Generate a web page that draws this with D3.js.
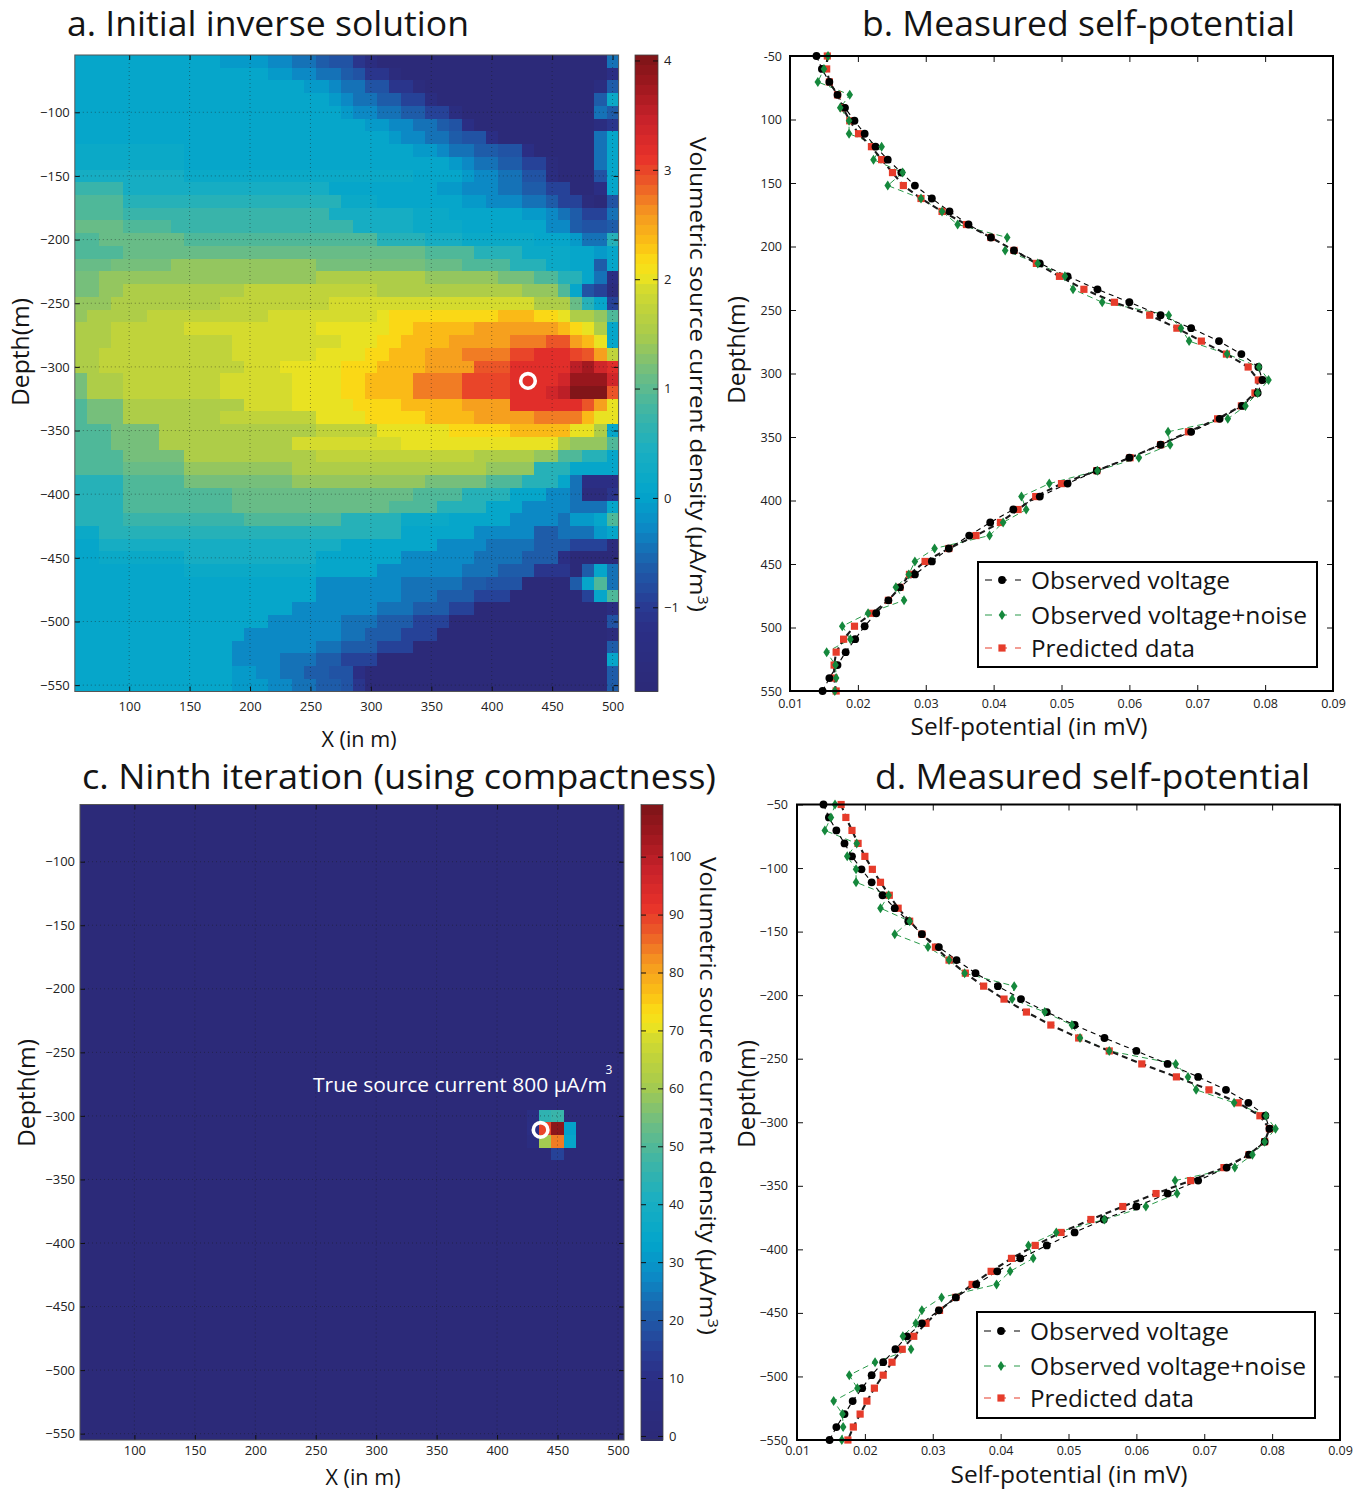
<!DOCTYPE html>
<html>
<head>
<meta charset="utf-8">
<title>Self-potential inversion</title>
<script src="https://cdn.jsdelivr.net/npm/d3@7/dist/d3.min.js"></script>
<style>
  html, body { margin: 0; padding: 0; background: #fff; }
  svg { display: block; }
</style>
</head>
<body>
<svg id="fig" width="1365" height="1491"></svg>
<script>
// ---------------- data ----------------
// Borehole measurement depths (m)
const depths = [50.0, 60.2, 70.4, 80.6, 90.8, 101.0, 111.2, 121.4, 131.6, 141.8,
  152.0, 162.2, 172.4, 182.7, 192.9, 203.1, 213.3, 223.5, 233.7, 243.9,
  254.1, 264.3, 274.5, 284.7, 294.9, 305.1, 315.3, 325.5, 335.7, 345.9,
  356.1, 366.3, 376.5, 386.7, 396.9, 407.1, 417.3, 427.6, 437.8, 448.0,
  458.2, 468.4, 478.6, 488.8, 499.0, 509.2, 519.4, 529.6, 539.8, 550.0];

// Self-potential (mV)
const observedVoltage = [0.0139, 0.0147, 0.0158, 0.0170, 0.0181, 0.0195, 0.0210, 0.0226, 0.0244, 0.0264,
  0.0284, 0.0309, 0.0335, 0.0363, 0.0396, 0.0430, 0.0468, 0.0509, 0.0553, 0.0600,
  0.0646, 0.0691, 0.0732, 0.0765, 0.0790, 0.0796, 0.0789, 0.0766, 0.0733, 0.0691,
  0.0646, 0.0600, 0.0552, 0.0509, 0.0468, 0.0429, 0.0395, 0.0364, 0.0334, 0.0309,
  0.0284, 0.0262, 0.0245, 0.0227, 0.0210, 0.0196, 0.0182, 0.0170, 0.0158, 0.0148];

const observedNoisy = [0.0156, 0.0150, 0.0141, 0.0188, 0.0174, 0.0187, 0.0187, 0.0235, 0.0223, 0.0266,
  0.0244, 0.0293, 0.0324, 0.0347, 0.0420, 0.0417, 0.0465, 0.0505, 0.0517, 0.0560,
  0.0658, 0.0676, 0.0688, 0.0744, 0.0791, 0.0805, 0.0789, 0.0771, 0.0745, 0.0657,
  0.0660, 0.0614, 0.0553, 0.0482, 0.0441, 0.0448, 0.0414, 0.0394, 0.0313, 0.0284,
  0.0275, 0.0256, 0.0268, 0.0215, 0.0177, 0.0189, 0.0154, 0.0167, 0.0168, 0.0166];

const predictedInitial = [0.0155, 0.0154, 0.0158, 0.0170, 0.0178, 0.0188, 0.0201, 0.0220, 0.0235, 0.0251,
  0.0267, 0.0293, 0.0324, 0.0360, 0.0396, 0.0430, 0.0463, 0.0497, 0.0533, 0.0578,
  0.0630, 0.0670, 0.0706, 0.0743, 0.0775, 0.0790, 0.0785, 0.0765, 0.0730, 0.0687,
  0.0646, 0.0601, 0.0552, 0.0500, 0.0462, 0.0436, 0.0410, 0.0374, 0.0334, 0.0299,
  0.0276, 0.0262, 0.0245, 0.0221, 0.0195, 0.0179, 0.0168, 0.0165, 0.0165, 0.0168];

const predictedNinth = [0.0165, 0.0172, 0.0181, 0.0190, 0.0200, 0.0211, 0.0223, 0.0236, 0.0249, 0.0266,
  0.0284, 0.0304, 0.0324, 0.0348, 0.0375, 0.0405, 0.0438, 0.0474, 0.0515, 0.0560,
  0.0608, 0.0659, 0.0707, 0.0750, 0.0782, 0.0796, 0.0789, 0.0766, 0.0729, 0.0680,
  0.0629, 0.0580, 0.0533, 0.0489, 0.0451, 0.0416, 0.0386, 0.0358, 0.0334, 0.0310,
  0.0290, 0.0272, 0.0255, 0.0240, 0.0227, 0.0214, 0.0203, 0.0193, 0.0183, 0.0175];

// Tick values and labels
const mapXTicks = [100, 150, 200, 250, 300, 350, 400, 450, 500];
const mapDepthTicks = [-100, -150, -200, -250, -300, -350, -400, -450, -500, -550];
const spTicks = [0.01, 0.02, 0.03, 0.04, 0.05, 0.06, 0.07, 0.08, 0.09];
const spTickLabels = ['0.01', '0.02', '0.03', '0.04', '0.05', '0.06', '0.07', '0.08', '0.09'];
const spDepthTicks = [50, 100, 150, 200, 250, 300, 350, 400, 450, 500, 550];
const spDepthLabelsB = ['-50', '100', '150', '200', '250', '300', '350', '400', '450', '500', '550'];
const spDepthLabelsD = ['\u221250', '\u2212100', '\u2212150', '\u2212200', '\u2212250', '\u2212300',
  '\u2212350', '\u2212400', '\u2212450', '\u2212500', '\u2212550'];
const barTicksInitial = [-1, 0, 1, 2, 3, 4];
const barTicksNinth = [0, 10, 20, 30, 40, 50, 60, 70, 80, 90, 100];

// Model grid (m): 45 columns x 50 rows of 10 m cells
const gridWest = 55, gridEast = 505, gridTop = -55, gridBottom = -555, cellSize = 10;

// Initial inverse solution (uA/m^3). One string per 10 m row, top to bottom;
// each token is a value level (0-9, a-z) with an optional *count of repeated cells.
const levelBase = -1.75, levelStep = 0.165;
const initialRows = [
  "b*12 a*4 9*2 8*2 7 6*2 4 2 0*19 8",
  "b*16 a*2 9*2 8*2 7 6 4*2 1 0*17 3",
  "b*19 a*2 9 8*2 6*2 4*2 1 0*14 2 7",
  "b*21 a 9 8*2 7*2 5*2 2 0*13 7 c",
  "b*22 a 9*2 8*2 7*2 5*2 2 0*11 8 7",
  "b*24 a*2 9*2 8*2 7 6 3 0*10 2 4",
  "b*26 a 9*2 8*2 7 6*2 3 0*8 8 b",
  "c*9 b*19 a*2 9 8*2 7*2 6*2 3 0*5 8 b",
  "c*9 b*22 a 9 8*2 7*2 5*2 1 0*3 8 b",
  "d*9 c*19 b*4 a 9*2 8*2 6*2 2 0*3 6 b",
  "f*4 d*17 b*9 a*2 9*3 8*2 7*2 5*2 0*2 3 b",
  "g*4 e*18 c*3 b*7 a*2 9*3 8*2 7 5*2 1 0 6",
  "g*4 f*17 d*7 c*3 b*6 a*2 9 8 7 5*2 8",
  "h*4 g*4 f*15 d*5 c*4 b*7 9*2 7 6*2 7",
  "g*2 h*7 g*16 e*4 d*3 c*6 b*3 a 8*2 e",
  "g*4 h*25 g*4 e*4 c*4 b*2 a b",
  "h*3 i*5 j*12 i*9 h*3 g*4 e*3 c*2 b*2 7 b",
  "i*2 j*18 k*9 j*6 i*3 g*2 e*2 b 8 3",
  "i*2 j*2 k*10 l*11 k*12 j*3 g b 6 5 1",
  "j*3 k*9 l*9 m*17 k*3 h e b 5",
  "j k*5 l*10 m*9 n o*9 p*3 o*2 n k*2 j g",
  "k*3 l*6 m*11 n*6 o*2 p*5 q*7 p o n k b",
  "k*3 l*10 m*9 n*3 o*2 p*4 q*5 r*3 s*2 q p n b",
  "k*2 l*11 m*7 n*4 o*2 p*3 q*3 r*4 t*2 u*3 t s q l",
  "k*2 l*12 m*3 n*5 o*3 p*4 q*4 s*3 u*5 w x v u",
  "i k*3 l*8 m*6 n*4 o*2 p*4 r*4 t*4 u*4 v y*3 v",
  "i k*3 l*8 m*6 n*4 o*2 p*4 r*4 t*4 u*3 v w z*3 s",
  "g i*3 k*10 m*4 n*5 o*4 p*5 q*4 u*6 s q n",
  "g i*3 k*8 l*8 n*4 o*5 p*4 q*5 r*4 p n n",
  "g*3 i*4 k*13 l*5 n*6 o*5 p*5 n*2 k b",
  "g*3 i*4 k*11 m*9 n*13 k j*3 g",
  "g*4 i*5 k*11 l*13 k*5 j*2 g*2 e*2 b",
  "g*4 h*5 j*9 k*16 j*4 e*3 b*4",
  "e*4 g*5 i*9 j*11 i*5 g*3 e*3 b 8 3*3",
  "e*4 g*9 h*15 g*4 e*4 b*3 9*2 8 1*2 4",
  "e*4 g*9 h*13 g*4 e*4 b*3 9*4 8*3 b",
  "e*4 f*10 g*8 e*5 c*4 b*5 9*4 8 a*2 b g",
  "c*2 e*25 b*6 9*5 7*2 8*3 a b",
  "b*2 d*20 b*8 9*4 8*4 7*3 5*3 1",
  "b*2 c*7 d*11 b*7 9*6 8*4 7*3 3 0*4",
  "b*9 c*11 b*5 9*7 8*3 7*3 4*3 0 7 b 8",
  "b*20 9*7 8*5 7*2 6*3 0*4 7 b g 8",
  "b*20 9*7 8*3 7*3 5*3 0*6 5 b g",
  "b*18 9*7 8*3 7*3 5*2 0*11 2",
  "b*16 9*6 8*3 7*3 5*3 0*13 6",
  "b*14 9*8 8*2 7*3 5*3 0*14 1",
  "b*13 9*7 8*2 7*3 5*3 0*16 7",
  "b*13 9*4 8*3 7*2 5*3 0*19 b",
  "b*13 a*2 9*2 8*2 7*2 6*2 3 0*20 7",
  "b*13 a*3 9*2 8*2 7*2 6 4 0*20 7"
];

// Ninth iteration (uA/m^3): uniform background plus the compact source cells
// [west edge x (m), top depth (m), value]
const ninthBackground = 0;
const ninthSource = [
  [425, -295, 7], [435, -295, 45], [445, -295, 46],
  [425, -305, 9], [435, -305, 89], [445, -305, 107], [455, -305, 33],
  [425, -315, 6], [435, -315, 60], [445, -315, 84], [455, -315, 34],
  [445, -325, 16]
];

// True source marker [x (m), depth (m)] as placed on each map
const sourceMarkInitial = [430, -311];
const sourceMarkNinth = [436, -311];

// ---------------- drawing ----------------
const svg = d3.select('#fig');
const FONT = "'Open Sans', 'Noto Sans', 'DejaVu Sans', sans-serif";
const INK = '#141414';

// Printed jet-like colour ramp, 64 bands
const rampStops = [
  [0.00, '#2c2a78'], [0.10, '#2b2f86'], [0.14, '#283d95'], [0.20, '#1d5fab'],
  [0.26, '#0b8bc6'], [0.31, '#02a5cb'], [0.38, '#1bafc1'], [0.44, '#3fb5a5'],
  [0.50, '#6ebd82'], [0.56, '#a8cb4c'], [0.60, '#bfd33c'], [0.635, '#d6db2d'],
  [0.655, '#f2e51d'], [0.68, '#fad816'], [0.70, '#fbc315'], [0.75, '#f59a20'],
  [0.80, '#ec5a28'], [0.84, '#e7312a'], [0.90, '#c7222a'], [0.95, '#a0181f'],
  [1.00, '#7c1418']
];
const ramp = d3.scaleLinear()
  .domain(rampStops.map(s => s[0]))
  .range(rampStops.map(s => s[1]))
  .interpolate(d3.interpolateRgb);
const BANDS = 64;
function bandedColour(domain) {
  return v => {
    const t = (v - domain[0]) / (domain[1] - domain[0]);
    const k = Math.max(0, Math.min(BANDS - 1, Math.floor(t * BANDS)));
    return ramp((k + 0.5) / BANDS);
  };
}

function addText(parent, o) {
  const t = parent.append('text')
    .attr('transform', `translate(${o.x},${o.y})` + (o.rotate ? ` rotate(${o.rotate})` : ''))
    .attr('text-anchor', o.anchor || 'middle')
    .attr('font-family', o.family || FONT)
    .attr('font-size', o.size)
    .attr('fill', o.fill || INK);
  if (o.length) t.attr('textLength', o.length).attr('lengthAdjust', 'spacingAndGlyphs');
  const parts = Array.isArray(o.text) ? o.text : [o.text];
  parts.forEach(p => {
    if (typeof p === 'string') t.append('tspan').text(p);
    else t.append('tspan').attr('dy', p.dy).attr('font-size', p.size).text(p.text);
  });
  return t;
}

function decodeRow(row) {
  const out = [];
  row.trim().split(/\s+/).forEach(tok => {
    const [ch, n] = tok.split('*');
    const level = parseInt(ch, 36);
    for (let i = 0; i < (n ? +n : 1); i++) out.push(levelBase + level * levelStep);
  });
  return out;
}

const columnWest = d3.range(gridWest, gridEast, cellSize);
const rowTop = d3.range(gridTop, gridBottom, -cellSize);

const initialCells = [];
initialRows.forEach((row, r) => {
  decodeRow(row).forEach((v, c) => {
    if (c < columnWest.length) initialCells.push({ west: columnWest[c], top: rowTop[r], value: v });
  });
});

const ninthLookup = new Map(ninthSource.map(s => [s[0] + ',' + s[1], s[2]]));
const ninthCells = [];
rowTop.forEach(top => columnWest.forEach(west => {
  const key = west + ',' + top;
  ninthCells.push({ west, top, value: ninthLookup.has(key) ? ninthLookup.get(key) : ninthBackground });
}));

const unitLabel = ['Volumetric source current density (\u03bcA/m', { text: '3', dy: -8, size: 14 }, { text: ')', dy: 8, size: 21 }];

function minusFmt(d) { return d < 0 ? '\u2212' + Math.abs(d) : String(d); }

function drawMap(cfg) {
  const g = svg.append('g');
  const x = d3.scaleLinear().domain([gridWest, gridEast]).range([cfg.left, cfg.right]);
  const y = d3.scaleLinear().domain([gridTop, gridBottom]).range([cfg.top, cfg.bottom]);
  const colour = bandedColour(cfg.domain);

  const clipId = 'clip-' + cfg.id;
  svg.append('clipPath').attr('id', clipId).append('rect')
    .attr('x', cfg.left).attr('y', cfg.top)
    .attr('width', cfg.right - cfg.left).attr('height', cfg.bottom - cfg.top);

  const cells = g.append('g').attr('clip-path', `url(#${clipId})`);
  cells.selectAll('rect').data(cfg.cells).join('rect')
    .attr('x', d => x(d.west))
    .attr('y', d => y(d.top))
    .attr('width', d => x(d.west + cellSize) - x(d.west) + 0.6)
    .attr('height', d => y(d.top - cellSize) - y(d.top) + 0.6)
    .attr('fill', d => colour(d.value))
    .attr('shape-rendering', 'crispEdges');

  // dotted grid
  const grid = g.append('g').attr('stroke', '#1a1a1a').attr('stroke-width', 1)
    .attr('stroke-dasharray', '1,3').attr('opacity', 0.45);
  mapXTicks.forEach(v => grid.append('line').attr('x1', x(v)).attr('x2', x(v)).attr('y1', cfg.top).attr('y2', cfg.bottom));
  mapDepthTicks.forEach(v => grid.append('line').attr('x1', cfg.left).attr('x2', cfg.right).attr('y1', y(v)).attr('y2', y(v)));

  // axes with inward ticks
  const styleAxis = a => {
    a.select('.domain').remove();
    a.attr('font-family', FONT).attr('font-size', 13);
    a.selectAll('line').attr('stroke', '#111');
    a.selectAll('text').attr('fill', '#222');
  };
  g.append('g').attr('transform', `translate(${cfg.left},0)`)
    .call(d3.axisLeft(y).tickValues(mapDepthTicks).tickSize(-5).tickPadding(5).tickFormat(minusFmt)).call(styleAxis);
  g.append('g').attr('transform', `translate(${cfg.right},0)`)
    .call(d3.axisRight(y).tickValues(mapDepthTicks).tickSize(-5).tickFormat('')).call(styleAxis);
  g.append('g').attr('transform', `translate(0,${cfg.bottom})`)
    .call(d3.axisBottom(x).tickValues(mapXTicks).tickSize(-5).tickPadding(cfg.xPad).tickFormat(d3.format('d'))).call(styleAxis);
  g.append('g').attr('transform', `translate(0,${cfg.top})`)
    .call(d3.axisTop(x).tickValues(mapXTicks).tickSize(-5).tickFormat('')).call(styleAxis);

  g.append('rect').attr('x', cfg.left).attr('y', cfg.top)
    .attr('width', cfg.right - cfg.left).attr('height', cfg.bottom - cfg.top)
    .attr('fill', 'none').attr('stroke', '#555').attr('stroke-width', 1);

  // true source marker
  g.append('circle').attr('cx', x(cfg.source[0])).attr('cy', y(cfg.source[1]))
    .attr('r', 7.3).attr('fill', 'none').attr('stroke', '#fff').attr('stroke-width', 3.6);

  // colour bar
  const by = d3.scaleLinear().domain(cfg.domain).range([cfg.bottom, cfg.top]);
  const bandW = (cfg.domain[1] - cfg.domain[0]) / BANDS;
  const bands = d3.range(BANDS).map(k => cfg.domain[0] + k * bandW);
  g.append('g').selectAll('rect').data(bands).join('rect')
    .attr('x', cfg.barLeft).attr('width', cfg.barRight - cfg.barLeft)
    .attr('y', d => by(d + bandW)).attr('height', d => by(d) - by(d + bandW) + 0.5)
    .attr('fill', d => colour(d + bandW / 2))
    .attr('shape-rendering', 'crispEdges');
  g.append('rect').attr('x', cfg.barLeft).attr('y', cfg.top)
    .attr('width', cfg.barRight - cfg.barLeft).attr('height', cfg.bottom - cfg.top)
    .attr('fill', 'none').attr('stroke', '#444').attr('stroke-width', 0.8);
  g.append('g').attr('transform', `translate(${cfg.barRight},0)`)
    .call(d3.axisRight(by).tickValues(cfg.barTicks).tickSize(-5).tickPadding(6).tickFormat(minusFmt)).call(styleAxis);
  g.append('g').attr('transform', `translate(${cfg.barLeft},0)`)
    .call(d3.axisLeft(by).tickValues(cfg.barTicks).tickSize(-5).tickFormat('')).call(styleAxis);

  addText(svg, { text: unitLabel, x: cfg.barLabelX, y: (cfg.barLabelTop + cfg.barLabelBottom) / 2, size: 21, rotate: 90, length: cfg.barLabelBottom - cfg.barLabelTop });
  addText(svg, { text: 'Depth(m)', x: cfg.depthLabelX, y: cfg.depthLabelY, size: 23, rotate: -90, length: 108 });
  addText(svg, { text: 'X (in m)', x: cfg.xLabelX, y: cfg.xLabelY, size: 22, length: 75 });
  return { x, y };
}

drawMap({
  id: 'a', cells: initialCells, domain: [-1.77, 4.05], barTicks: barTicksInitial, source: sourceMarkInitial,
  left: 74.8, right: 618.6, top: 55, bottom: 691.5, xPad: 10,
  barLeft: 635, barRight: 658,
  barLabelX: 690, barLabelTop: 137, barLabelBottom: 612,
  depthLabelX: 29, depthLabelY: 352, xLabelX: 359, xLabelY: 747
});

drawMap({
  id: 'c', cells: ninthCells, domain: [-0.7, 109], barTicks: barTicksNinth, source: sourceMarkNinth,
  left: 80, right: 624, top: 804.5, bottom: 1440, xPad: 6,
  barLeft: 641, barRight: 663,
  barLabelX: 700, barLabelTop: 857, barLabelBottom: 1335,
  depthLabelX: 35, depthLabelY: 1093, xLabelX: 363, xLabelY: 1485
});

// annotation on the ninth-iteration map
addText(svg, { text: 'True source current 800 \u03bcA/m', x: 313, y: 1092, size: 20, anchor: 'start', length: 294, fill: '#ffffff' });
addText(svg, { text: '3', x: 609, y: 1074, size: 12, fill: '#ffffff' });

// ---------------- self-potential profiles ----------------
const seriesStyle = {
  observed: { values: observedVoltage, stroke: '#000', width: 1.1, dash: '5,4', fill: '#000', marker: 'circle' },
  noisy: { values: observedNoisy, stroke: '#2a9a4a', width: 1, dash: '6,4', fill: '#15883c', marker: 'diamond' },
  predicted: { values: null, stroke: '#1a1a1a', width: 2.1, dash: '6,4', fill: '#e63c2b', marker: 'square' }
};

function markerPath(kind) {
  if (kind === 'diamond') return 'M0,-5L3.3,0L0,5L-3.3,0Z';
  if (kind === 'square') return 'M-3.6,-3.6H3.6V3.6H-3.6Z';
  return d3.symbol(d3.symbolCircle, 48)();
}

function drawSP(cfg) {
  const g = svg.append('g');
  const x = d3.scaleLinear().domain([0.01, 0.09]).range([cfg.left, cfg.right]);
  const y = d3.scaleLinear().domain([50, 550]).range([cfg.top, cfg.bottom]);

  const styleAxis = a => {
    a.select('.domain').remove();
    a.attr('font-family', FONT).attr('font-size', 12.5);
    a.selectAll('line').attr('stroke', '#111').attr('stroke-width', 1);
    a.selectAll('text').attr('fill', '#222');
  };
  g.append('g').attr('transform', `translate(${cfg.left},0)`)
    .call(d3.axisLeft(y).tickValues(spDepthTicks).tickSize(-6).tickPadding(cfg.yPad).tickFormat((d, i) => cfg.depthLabels[i])).call(styleAxis);
  g.append('g').attr('transform', `translate(${cfg.right},0)`)
    .call(d3.axisRight(y).tickValues(spDepthTicks).tickSize(-6).tickFormat('')).call(styleAxis);
  g.append('g').attr('transform', `translate(0,${cfg.bottom})`)
    .call(d3.axisBottom(x).tickValues(spTicks).tickSize(-6).tickPadding(cfg.xPad).tickFormat((d, i) => spTickLabels[i])).call(styleAxis);
  g.append('g').attr('transform', `translate(0,${cfg.top})`)
    .call(d3.axisTop(x).tickValues(spTicks).tickSize(-6).tickFormat('')).call(styleAxis);

  const series = [
    Object.assign({}, seriesStyle.noisy),
    Object.assign({}, seriesStyle.observed),
    Object.assign({}, seriesStyle.predicted, { values: cfg.predicted })
  ];
  const line = d3.line().x(d => x(d.v)).y(d => y(d.depth));
  series.forEach(s => {
    const pts = s.values.map((v, i) => ({ v, depth: depths[i] }));
    g.append('path').datum(pts).attr('d', line)
      .attr('fill', 'none').attr('stroke', s.stroke).attr('stroke-width', s.width)
      .attr('stroke-dasharray', s.dash);
  });
  // markers: predicted, observed, noisy
  [series[2], series[1], series[0]].forEach(s => {
    g.append('g').selectAll('path').data(s.values.map((v, i) => ({ v, depth: depths[i] }))).join('path')
      .attr('transform', d => `translate(${x(d.v)},${y(d.depth)})`)
      .attr('d', markerPath(s.marker)).attr('fill', s.fill);
  });

  g.append('rect').attr('x', cfg.left).attr('y', cfg.top)
    .attr('width', cfg.right - cfg.left).attr('height', cfg.bottom - cfg.top)
    .attr('fill', 'none').attr('stroke', '#000').attr('stroke-width', 2);

  // legend
  const L = cfg.legend;
  const lg = g.append('g').attr('transform', `translate(${L.x},${L.y})`);
  lg.append('rect').attr('width', L.w).attr('height', L.h).attr('fill', '#fff')
    .attr('stroke', '#000').attr('stroke-width', 2);
  const entries = [
    { label: 'Observed voltage', s: seriesStyle.observed, stroke: '#000', len: 199 },
    { label: 'Observed voltage+noise', s: seriesStyle.noisy, stroke: '#2a9a4a', len: 276 },
    { label: 'Predicted data', s: seriesStyle.predicted, stroke: '#e63c2b', len: 164 }
  ];
  entries.forEach((e, i) => {
    const cy = L.rows[i];
    lg.append('line').attr('x1', 7).attr('x2', 43).attr('y1', cy).attr('y2', cy)
      .attr('stroke', e.stroke).attr('stroke-width', 1.1).attr('stroke-dasharray', '7,8');
    lg.append('path').attr('transform', `translate(24,${cy})`).attr('d', markerPath(e.s.marker)).attr('fill', e.s.fill);
    addText(lg, { text: e.label, x: 53, y: cy + 8.5, size: 24, anchor: 'start', length: e.len });
  });

  addText(svg, { text: 'Depth(m)', x: cfg.depthLabelX, y: cfg.depthLabelY, size: 23, rotate: -90, length: 108 });
  addText(svg, { text: 'Self-potential (in mV)', x: cfg.xLabelX, y: cfg.xLabelY, size: 24, length: 237 });
}

drawSP({
  left: 790, right: 1333, top: 56, bottom: 691, yPad: 8, xPad: 8,
  depthLabels: spDepthLabelsB, predicted: predictedInitial,
  legend: { x: 978, y: 562, w: 339, h: 105, rows: [18, 53, 86] },
  depthLabelX: 745, depthLabelY: 350, xLabelX: 1029, xLabelY: 735
});

drawSP({
  left: 797, right: 1340, top: 804.5, bottom: 1440, yPad: 9, xPad: 6,
  depthLabels: spDepthLabelsD, predicted: predictedNinth,
  legend: { x: 977, y: 1312, w: 338, h: 106, rows: [19, 54, 86] },
  depthLabelX: 755, depthLabelY: 1094, xLabelX: 1069, xLabelY: 1483
});

// ---------------- panel titles ----------------
addText(svg, { text: 'a. Initial inverse solution', x: 67, y: 36, size: 34, anchor: 'start', length: 402 });
addText(svg, { text: 'b. Measured self-potential', x: 862, y: 36, size: 34, anchor: 'start', length: 433 });
addText(svg, { text: 'c. Ninth iteration (using compactness)', x: 82, y: 789, size: 34, anchor: 'start', length: 634 });
addText(svg, { text: 'd. Measured self-potential', x: 875, y: 789, size: 34, anchor: 'start', length: 435 });
</script>
</body>
</html>
